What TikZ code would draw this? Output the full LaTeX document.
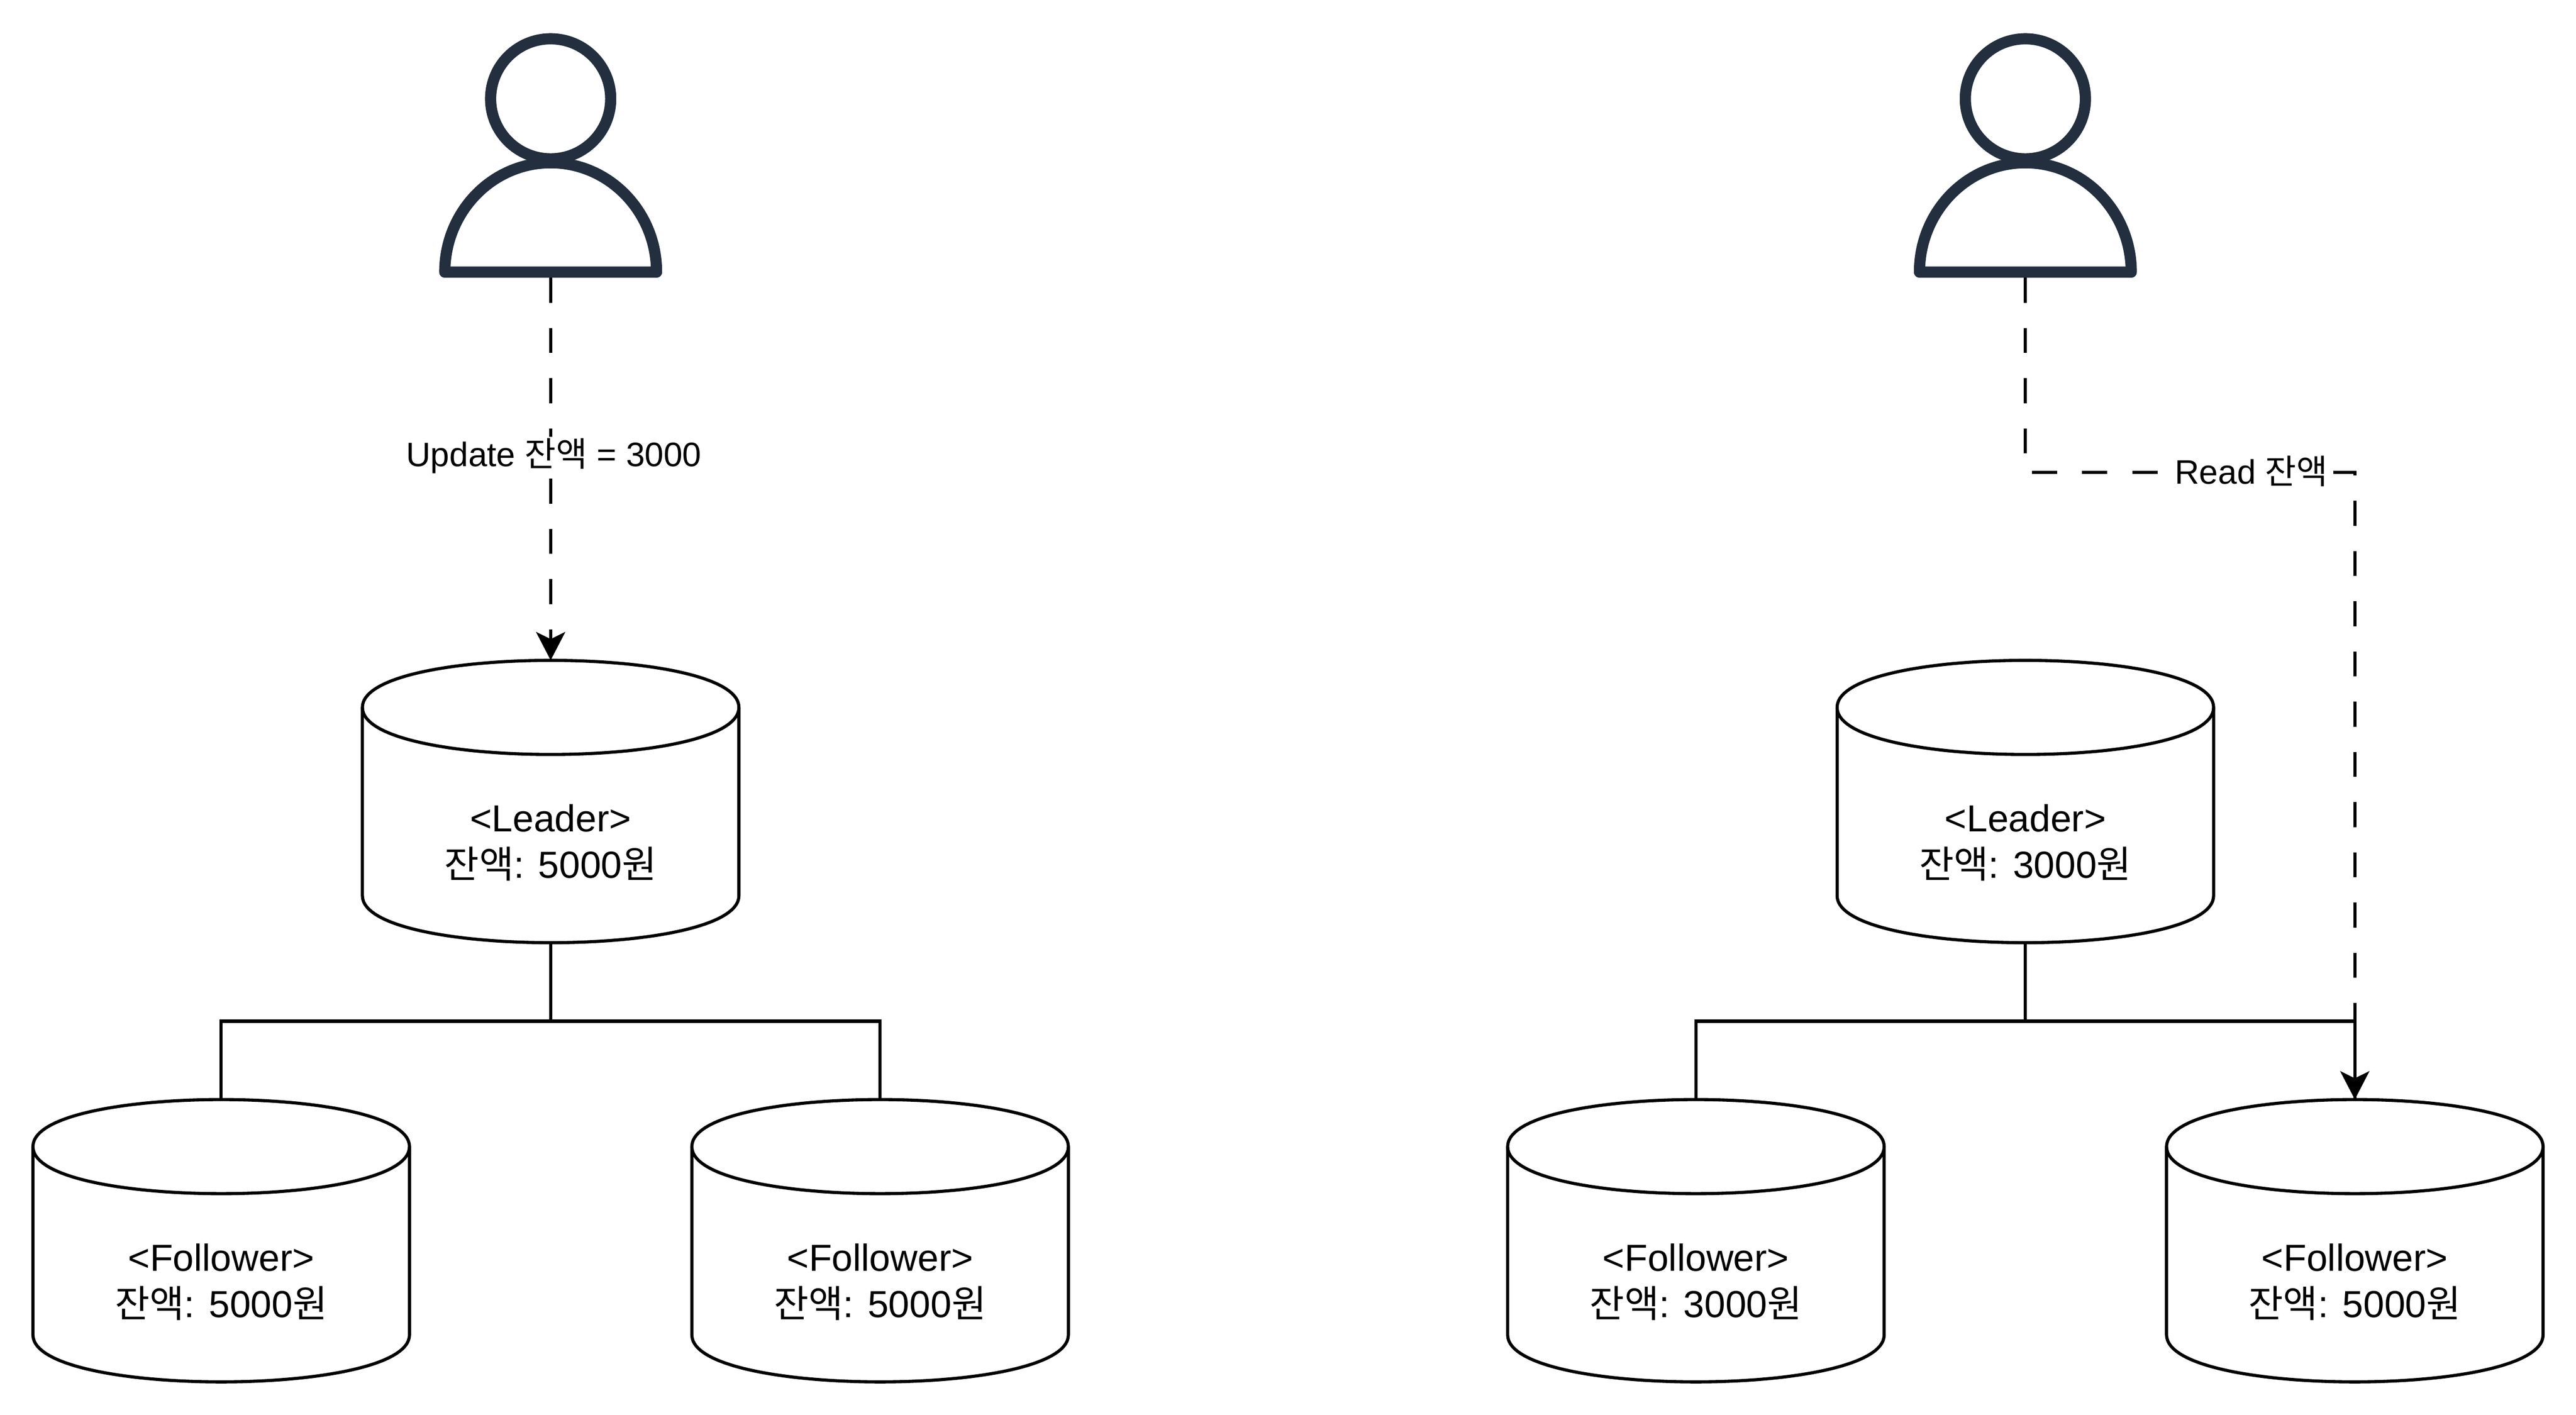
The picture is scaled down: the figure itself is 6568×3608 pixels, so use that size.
\documentclass[tikz,border=0pt]{standalone}
\usepackage{fontspec}
\setmainfont{Liberation Sans}
\newfontfamily\krfont{Noto Sans CJK KR}
\newcommand{\kr}[1]{{\krfont #1}}
\usetikzlibrary{arrows.meta}
\definecolor{userink}{HTML}{232F3E}
\tikzset{
  x=0.01cm,y=-0.01cm,
  dbbox/.style={minimum width=9.6cm,minimum height=7.2cm,inner sep=0pt,outer sep=0pt},
  usrbox/.style={minimum width=5.67cm,minimum height=6.24cm,inner sep=0pt,outer sep=0pt},
  dbline/.style={line width=0.08cm,black,fill=white,line join=round},
  usrline/.style={line width=0.285cm,userink,line join=round},
  txt/.style={font=\fontsize{27.32}{33.6}\selectfont,align=center,inner sep=0pt,outer sep=0pt},
  edgelabel/.style={font=\fontsize{24.6}{30}\selectfont,align=center,outer sep=0pt,fill=white,inner sep=0.04cm},
  link/.style={line width=0.08cm,black},
  dashlink/.style={link,dash pattern=on 0.64cm off 0.64cm},
  tip/.style={-{Stealth[length=0.72cm,width=0.74cm,inset=0.18cm]}},
}
\newcommand{\dbcyl}[4]{% name, cx, top y, text
  \node[dbbox] (#1) at (#2,#3+360) {};
  \draw[dbline] (#2-480,#3+120) .. controls (#2-480,#3-40) and (#2+480,#3-40) .. (#2+480,#3+120)
    -- (#2+480,#3+600) .. controls (#2+480,#3+760) and (#2-480,#3+760) .. (#2-480,#3+600) -- cycle;
  \draw[dbline,fill=none] (#2-480,#3+120) .. controls (#2-480,#3+280) and (#2+480,#3+280) .. (#2+480,#3+120);
  \node[txt] (#1-text) at (#2,#3+465) {#4};
}
\newcommand{\usericon}[2]{% name, center x
  \node[usrbox] (#1) at (#2,396) {};
  \draw[usrline] (#2,252) circle[radius=1.53cm];
  \draw[usrline,fill=white] (#2-270,694) .. controls (#2-270,540) and (#2-149,415) .. (#2,415)
    .. controls (#2+149,415) and (#2+270,540) .. (#2+270,694) -- cycle;
}
\begin{document}
\begin{tikzpicture}
\useasboundingbox (0,0) rectangle (6568,3608);
\usericon{userL}{1404}
\usericon{userR}{5164}
\dbcyl{leadL}{1404}{1684}{<Leader>\\\kr{잔액}: 5000\kr{원}}
\dbcyl{foloLa}{564}{2804}{<Follower>\\\kr{잔액}: 5000\kr{원}}
\dbcyl{foloLb}{2244}{2804}{<Follower>\\\kr{잔액}: 5000\kr{원}}
\dbcyl{leadR}{5164}{1684}{<Leader>\\\kr{잔액}: 3000\kr{원}}
\dbcyl{foloRa}{4324}{2804}{<Follower>\\\kr{잔액}: 3000\kr{원}}
\dbcyl{foloRb}{6004}{2804}{<Follower>\\\kr{잔액}: 5000\kr{원}}
% solid tree links
\draw[link] (leadL.south) -- ++(0,200) -| (foloLa.north);
\draw[link] (leadL.south) -- ++(0,200) -| (foloLb.north);
\draw[link] (leadR.south) -- ++(0,200) -| (foloRa.north);
\draw[link] (leadR.south) -- ++(0,200) -| (foloRb.north);
% dashed user links
\draw[dashlink,tip] (userL.south) -- (leadL.north);
\node[edgelabel] (labL) at (1412,1163) {Update \kr{잔액} = 3000};
\coordinate (bendA) at (5164,1204);
\coordinate (bendB) at (6004,1204);
\draw[dashlink,tip] (userR.south) -- (bendA) -- (bendB) -- (foloRb.north);
\node[edgelabel] (labR) at (5740,1202) {Read \kr{잔액}};
\end{tikzpicture}
\end{document}
